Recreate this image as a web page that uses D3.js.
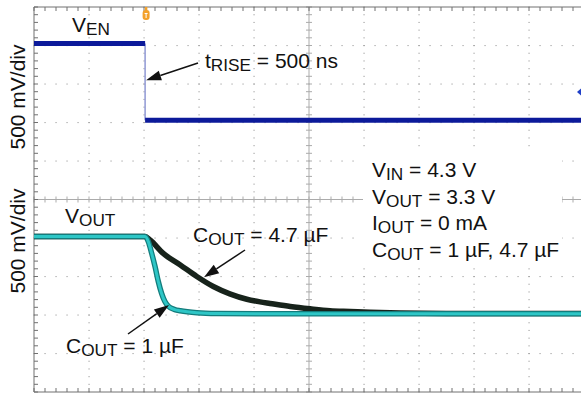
<!DOCTYPE html>
<html><head><meta charset="utf-8">
<script src="https://cdn.jsdelivr.net/npm/d3@7"></script>
<style>
html,body{margin:0;padding:0;background:#fff;}
svg{display:block;font-family:"Liberation Sans",Arial,Helvetica,sans-serif;}
</style></head><body>
<svg id="chart" width="581" height="395"></svg>
<script>
// Scope screen: positions in divisions (10 across, 10 down)
const enTime  = [0, 2.02, 2.02, 10];
const enLevel = [9.05, 9.05, 7.06, 7.06];

const out1uTime  = [0, 2.02, 2.08, 2.14, 2.20, 2.26, 2.32, 2.38, 2.44, 2.56, 2.66, 2.96, 3.32, 4.5, 6, 8, 10];
const out1uLevel = [4.04, 4.04, 3.90, 3.60, 3.26, 2.87, 2.56, 2.35, 2.23, 2.14, 2.11, 2.06, 2.04, 2.03, 2.03, 2.03, 2.03];

const out47uTime  = [0, 2.02, 2.11, 2.35, 2.66, 2.96, 3.26, 3.56, 3.87, 4.11, 4.29, 4.66, 5.02, 5.38, 5.75, 6.11, 6.66, 7.5, 10];
const out47uLevel = [4.04, 4.04, 3.95, 3.60, 3.30, 3.00, 2.74, 2.55, 2.41, 2.34, 2.30, 2.22, 2.16, 2.11, 2.09, 2.07, 2.05, 2.04, 2.04];

const axisLabel = "500 mV/div";
const conditions = [
  [["V"], ["IN", 1], [" = 4.3 V"]],
  [["V"], ["OUT", 1], [" = 3.3 V"]],
  [["I"], ["OUT", 1], [" = 0 mA"]],
  [["C"], ["OUT", 1], [" = 1 \u00b5F, 4.7 \u00b5F"]]
];

const svg = d3.select("#chart");
const x = d3.scaleLinear().domain([0, 10]).range([34, 584]);
const y = d3.scaleLinear().domain([0, 10]).range([392, 7]);

const minorX = d3.range(0, 51).map(i => i / 5);
const minorY = d3.range(0, 51).map(i => i / 5);

// dotted graticule
const grid = svg.append("g").attr("fill", "#9c9c9c");
[1, 2, 3, 4, 6, 7, 8, 9].forEach(v => {
  grid.selectAll(null).data(minorX).join("rect")
    .attr("x", d => x(d) - 0.5).attr("y", y(v) - 0.5).attr("width", 1.1).attr("height", 1.1);
});
[1, 2, 3, 4, 6, 7, 8, 9].forEach(t => {
  grid.selectAll(null).data(minorY).join("rect")
    .attr("x", x(t) - 0.5).attr("y", d => y(d) - 0.5).attr("width", 1.1).attr("height", 1.1);
});

// centre axes with minor ticks
const centre = svg.append("g").attr("stroke", "#ababab").attr("stroke-width", 1);
centre.append("line").attr("x1", x(5)).attr("x2", x(5)).attr("y1", y(10)).attr("y2", y(0));
centre.append("line").attr("x1", x(0)).attr("x2", x(10)).attr("y1", y(5)).attr("y2", y(5));
centre.selectAll(null).data(minorY).join("line")
  .attr("x1", x(5) - 3).attr("x2", x(5) + 3).attr("y1", d => y(d)).attr("y2", d => y(d));
centre.selectAll(null).data(minorX).join("line")
  .attr("y1", y(5) - 3).attr("y2", y(5) + 3).attr("x1", d => x(d)).attr("x2", d => x(d));

// frame with ticks
const frame = svg.append("g").attr("stroke", "#707070").attr("stroke-width", 1);
frame.append("line").attr("x1", x(0)).attr("x2", x(0)).attr("y1", y(10)).attr("y2", y(0));
frame.append("line").attr("x1", x(0)).attr("x2", 581).attr("y1", y(10)).attr("y2", y(10));
frame.append("line").attr("x1", x(0)).attr("x2", 581).attr("y1", y(0)).attr("y2", y(0));
frame.selectAll(null).data(minorX).join("line")
  .attr("x1", d => x(d)).attr("x2", d => x(d)).attr("y1", y(10)).attr("y2", y(10) + 4);
frame.selectAll(null).data(minorX).join("line")
  .attr("x1", d => x(d)).attr("x2", d => x(d)).attr("y1", y(0)).attr("y2", y(0) - 4);
frame.selectAll(null).data(minorY).join("line")
  .attr("x1", x(0)).attr("x2", x(0) + 4).attr("y1", d => y(d)).attr("y2", d => y(d));

// traces
const line = d3.line().x(d => x(d[0])).y(d => y(d[1])).curve(d3.curveMonotoneX);
const straight = d3.line().x(d => x(d[0])).y(d => y(d[1]));
const zip = (a, b) => a.map((v, i) => [v, b[i]]);

const en = zip(enTime, enLevel);
svg.append("line").attr("x1", x(en[1][0])).attr("x2", x(en[2][0]))
  .attr("y1", y(en[1][1])).attr("y2", y(en[2][1]))
  .attr("stroke", "#8f98d4").attr("stroke-width", 1.5);
svg.append("path").attr("d", straight([en[0], en[1]]))
  .attr("fill", "none").attr("stroke", "#0c1a9a").attr("stroke-width", 5);
svg.append("path").attr("d", straight([en[2], en[3]]))
  .attr("fill", "none").attr("stroke", "#0c1a9a").attr("stroke-width", 5);

svg.append("path").attr("d", line(zip(out47uTime, out47uLevel)))
  .attr("fill", "none").attr("stroke", "#17231b").attr("stroke-width", 5.5);

const c1 = line(zip(out1uTime, out1uLevel));
svg.append("path").attr("d", c1).attr("fill", "none")
  .attr("stroke", "#137c7c").attr("stroke-width", 5.5);
svg.append("path").attr("d", c1).attr("fill", "none")
  .attr("stroke", "#2ec6c6").attr("stroke-width", 3);

// trigger and channel markers
const tx = x(enTime[1]);
const trig = svg.append("g");
trig.append("line").attr("x1", tx + 1).attr("x2", tx + 1).attr("y1", 7).attr("y2", 11)
  .attr("stroke", "#f3a12a").attr("stroke-width", 2.5);
trig.append("rect").attr("x", tx - 2.5).attr("y", 10).attr("width", 7).attr("height", 10).attr("rx", 3)
  .attr("fill", "#f3a12a");
trig.append("path").attr("d", `M${tx - 0.5},13.5 h3 M${tx + 1},13.5 v4.5`)
  .attr("stroke", "#fff").attr("stroke-width", 1);
svg.append("path").attr("d", "M577,92 L581,88.5 L581,95.5 Z").attr("fill", "#2040c8");

// text helpers
function richText(g, px, py, parts, size) {
  const t = g.append("text").attr("x", px).attr("y", py).attr("font-size", size).attr("fill", "#111");
  let shifted = false;
  parts.forEach(([s, sub]) => {
    const sp = t.append("tspan").text(s);
    if (sub && !shifted) { sp.attr("dy", 3).attr("font-size", size * 0.82); shifted = true; }
    else if (!sub && shifted) { sp.attr("dy", -3); shifted = false; }
  });
  return t;
}

// condition block on a white patch
svg.append("rect").attr("x", 363).attr("y", 147).attr("width", 199).attr("height", 117).attr("fill", "#fff");
conditions.forEach((parts, i) => richText(svg, 372, 177 + i * 26.5, parts, 21));

richText(svg, 72, 31.5, [["V"], ["EN", 1]], 21);
richText(svg, 65, 223, [["V"], ["OUT", 1]], 21);
richText(svg, 205, 68, [["t"], ["RISE", 1], [" = 500 ns"]], 21);
richText(svg, 193, 241.5, [["C"], ["OUT", 1], [" = 4.7 \u00b5F"]], 21);
richText(svg, 66, 353, [["C"], ["OUT", 1], [" = 1 \u00b5F"]], 21);

[97, 241].forEach(cy => {
  svg.append("text").attr("transform", `translate(25,${cy}) rotate(-90)`)
    .attr("text-anchor", "middle").attr("font-size", 21).attr("fill", "#111").text(axisLabel);
});

// annotation arrows
function arrow(x1, y1, x2, y2) {
  const a = Math.atan2(y2 - y1, x2 - x1), L = 15, W = 5;
  const bx = x2 - L * Math.cos(a), by = y2 - L * Math.sin(a);
  svg.append("line").attr("x1", x1).attr("y1", y1).attr("x2", bx).attr("y2", by)
    .attr("stroke", "#111").attr("stroke-width", 1.5);
  svg.append("path").attr("d",
    `M${x2},${y2} L${bx + W * Math.sin(a)},${by - W * Math.cos(a)} L${bx - W * Math.sin(a)},${by + W * Math.cos(a)} Z`)
    .attr("fill", "#111");
}
arrow(198, 63, tx + 1, y(8.1));
arrow(245, 250, x(3.09), y(2.98));
arrow(128, 334, x(2.455), y(2.26));
</script></body></html>
